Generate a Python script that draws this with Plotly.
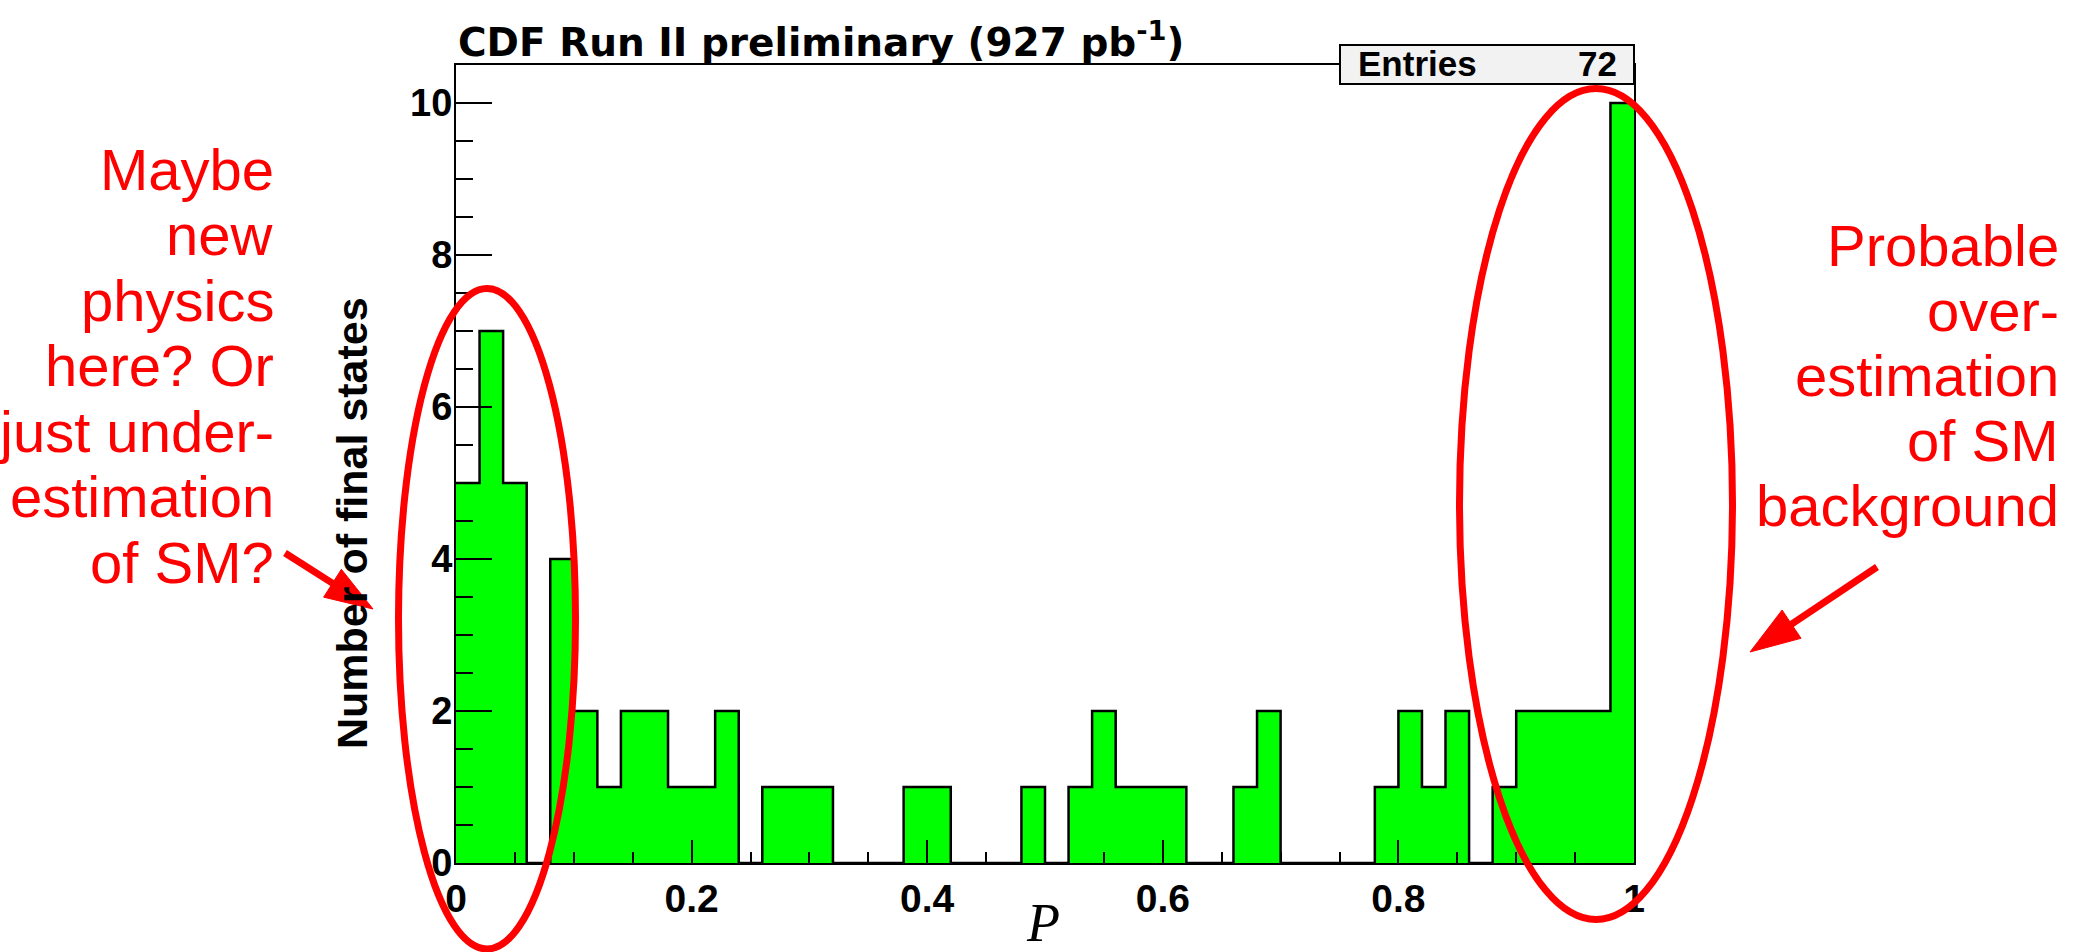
import numpy as np
import plotly.graph_objects as go

# Histogram of p-values: 50 bins on [0, 1]
bin_lo, bin_hi, n_bins = 0.0, 1.0, 50
counts = [5, 7, 5, 0, 4, 2, 1, 2, 2, 1,
          1, 2, 0, 1, 1, 1, 0, 0, 0, 1,
          1, 0, 0, 0, 1, 0, 1, 2, 1, 1,
          1, 0, 0, 1, 2, 0, 0, 0, 0, 1,
          2, 1, 2, 0, 1, 2, 2, 2, 2, 10]
x_tick_vals = [0, 0.2, 0.4, 0.6, 0.8, 1.0]
x_tick_text = ["0", "0.2", "0.4", "0.6", "0.8", "1"]
y_tick_vals = [0, 2, 4, 6, 8, 10]
y_tick_text = ["0", "2", "4", "6", "8", "10"]

title_text = "CDF Run II preliminary (927 pb<sup>-1</sup>)"
y_title = "Number of final states"
x_title = "P"
stats_label, stats_value = "Entries", str(sum(counts))
left_note = ["Maybe", "new", "physics", "here? Or", "just under-", "estimation", "of SM?"]
right_note = ["Probable", "over-", "estimation", "of SM", "background"]

# Canvas geometry (pixels)
W, H = 2077, 952
ML, MR, MT, MB = 456, 443, 65, 89
PW, PH = W - ML - MR, H - MT - MB


def px(x):
    return (x - ML) / PW


def py(y):
    return (H - MB - y) / PH


edges = np.linspace(bin_lo, bin_hi, n_bins + 1)
step_y = counts + [counts[-1]]

fig = go.Figure()
fig.add_trace(go.Scatter(
    x=edges, y=step_y, mode="lines", line_shape="hv",
    line=dict(color="black", width=2.5),
    fill="tozeroy", fillcolor="#00ff00",
    hoverinfo="skip", showlegend=False,
))

sans = "Liberation Sans, Arial, Helvetica, sans-serif"
tick_font = dict(family=sans, color="black", weight="bold")

fig.update_xaxes(
    range=[bin_lo, bin_hi], showline=True, linecolor="black", linewidth=2, mirror=True,
    ticks="inside", ticklen=23, tickwidth=2, tickcolor="black",
    tickvals=x_tick_vals, ticktext=x_tick_text,
    tickfont=dict(size=39, **tick_font), ticklabelstandoff=0,
    minor=dict(ticks="inside", ticklen=11, tickwidth=2, tickcolor="black", dtick=0.05, tick0=0),
    showgrid=False, zeroline=False,
)
fig.update_yaxes(
    range=[0, 10.5], showline=True, linecolor="black", linewidth=2, mirror=True,
    ticks="inside", ticklen=36, tickwidth=2, tickcolor="black",
    tickvals=y_tick_vals, ticktext=y_tick_text,
    tickfont=dict(size=38, **tick_font), ticklabelstandoff=-6,
    minor=dict(ticks="inside", ticklen=17, tickwidth=2, tickcolor="black", dtick=0.5, tick0=0),
    showgrid=False, zeroline=False,
)

shapes = []
annotations = []

# Statistics box
shapes.append(dict(type="rect", xref="paper", yref="paper",
                   x0=px(1340), x1=px(1634), y0=py(84), y1=py(45),
                   fillcolor="#f2f2f2", line=dict(color="black", width=2), layer="above"))
annotations.append(dict(xref="paper", yref="paper", x=px(1356), y=py(63), text=stats_label,
                        xanchor="left", yanchor="middle", showarrow=False,
                        font=dict(size=35, **tick_font)))
annotations.append(dict(xref="paper", yref="paper", x=px(1619), y=py(63), text=stats_value,
                        xanchor="right", yanchor="middle", showarrow=False,
                        font=dict(size=35, **tick_font)))

# Title, axis titles
annotations.append(dict(xref="paper", yref="paper", x=px(456), y=py(40), text=title_text,
                        xanchor="left", yanchor="middle", showarrow=False,
                        font=dict(size=39, family="DejaVu Sans, Arial, sans-serif",
                                  color="black", weight="bold")))
annotations.append(dict(xref="paper", yref="paper", x=px(352), y=py(523), text=y_title,
                        textangle=-90, xanchor="center", yanchor="middle", showarrow=False,
                        font=dict(size=43, family=sans, color="black", weight="bold")))
annotations.append(dict(xref="paper", yref="paper", x=px(1043), y=py(955), text=x_title,
                        xanchor="center", yanchor="bottom", showarrow=False,
                        font=dict(size=54, family="Liberation Serif, Times New Roman, serif",
                                  color="black", style="italic")))

# Red commentary
red_font = dict(size=58, family=sans, color="#ff0000")
for i, line in enumerate(left_note):
    base = 189 + 65.5 * i
    annotations.append(dict(xref="paper", yref="paper", x=px(276), y=py(base - 20), text=line,
                            xanchor="right", yanchor="middle", showarrow=False, font=red_font))
for i, line in enumerate(right_note):
    base = 265 + 65 * i
    annotations.append(dict(xref="paper", yref="paper", x=px(2061), y=py(base - 20), text=line,
                            xanchor="right", yanchor="middle", showarrow=False, font=red_font))

# Red ellipses
for (x0, x1, y0, y1) in [(398.5, 575.5, 288.5, 949), (1459.5, 1732.5, 88.5, 919.5)]:
    shapes.append(dict(type="circle", xref="paper", yref="paper",
                       x0=px(x0), x1=px(x1), y0=py(y1), y1=py(y0),
                       line=dict(color="#ff0000", width=7), layer="above"))


def arrow(tail, tip, head_len=50, head_w=34, width=7):
    t = np.array(tail, float)
    h = np.array(tip, float)
    d = (h - t) / np.linalg.norm(h - t)
    n = np.array([-d[1], d[0]])
    base = h - d * head_len
    c1 = base + n * head_w / 2
    c2 = base - n * head_w / 2
    out = [dict(type="line", xref="paper", yref="paper",
                x0=px(t[0]), y0=py(t[1]), x1=px(base[0] + d[0] * 4), y1=py(base[1] + d[1] * 4),
                line=dict(color="#ff0000", width=width), layer="above")]
    path = "M {} {} L {} {} L {} {} Z".format(px(h[0]), py(h[1]), px(c1[0]), py(c1[1]),
                                              px(c2[0]), py(c2[1]))
    out.append(dict(type="path", xref="paper", yref="paper", path=path,
                    fillcolor="#ff0000", line=dict(color="#ff0000", width=1), layer="above"))
    return out


shapes += arrow((285, 553), (373, 609), head_len=48, head_w=33)
shapes += arrow((1877, 567), (1750, 652), head_len=50, head_w=34)

fig.update_layout(
    width=W, height=H,
    margin=dict(l=ML, r=MR, t=MT, b=MB),
    paper_bgcolor="white", plot_bgcolor="white",
    shapes=shapes, annotations=annotations,
    showlegend=False,
)

fig.write_html("out.html")
